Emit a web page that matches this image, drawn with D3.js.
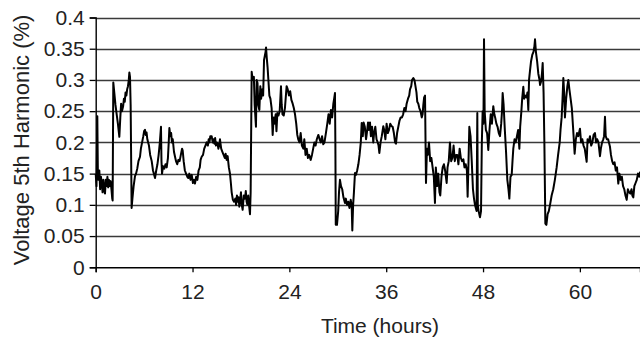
<!DOCTYPE html>
<html>
<head>
<meta charset="utf-8">
<script src="https://cdn.jsdelivr.net/npm/d3@7"></script>
<style>
html,body{margin:0;padding:0;background:#fff;}
svg{display:block;}
text{font-family:"Liberation Sans",Arial,Helvetica,sans-serif;fill:#222;}
</style>
</head>
<body>
<svg id="chart" width="640" height="338"></svg>
<script>
const xTicks = [0, 12, 24, 36, 48, 60];
const yTicks = [0, 0.05, 0.1, 0.15, 0.2, 0.25, 0.3, 0.35, 0.4];
const yTickLabels = ["0", "0.05", "0.1", "0.15", "0.2", "0.25", "0.3", "0.35", "0.4"];
const xTitle = "Time (hours)";
const yTitle = "Voltage 5th Harmonic (%)";

const hours = [
0.0,0.1,0.2,0.27,0.35,0.45,0.55,0.65,0.75,0.85,0.95,1.05,1.15,1.25,1.35,1.45,1.55,1.65,1.75,1.85,1.95,2.05,2.1,2.18,2.3,2.45,2.6,2.75,2.93,3.05,3.15,3.25,3.4,3.5,3.6,3.7,3.8,3.9,4.0,4.1,4.17,4.25,4.33,4.45,4.55,4.7,4.87,5.0,5.15,5.3,5.49,5.6,5.75,5.9,6.0,6.11,6.2,6.3,6.4,6.5,6.6,6.75,6.94,7.1,7.25,7.35,7.5,7.65,7.8,7.95,8.09,8.15,8.22,8.35,8.5,8.65,8.8,8.95,9.05,9.13,9.25,9.35,9.45,9.55,9.7,9.83,9.95,10.1,10.25,10.4,10.55,10.7,10.78,10.9,11.05,11.2,11.35,11.48,11.6,11.75,11.9,12.05,12.2,12.3,12.45,12.6,12.75,12.9,13.0,13.13,13.3,13.45,13.6,13.75,13.9,14.0,14.1,14.2,14.37,14.5,14.6,14.7,14.8,14.9,15.0,15.1,15.2,15.3,15.4,15.55,15.7,15.85,16.0,16.1,16.23,16.35,16.5,16.64,16.75,16.85,17.0,17.14,17.3,17.4,17.5,17.6,17.7,17.8,17.9,18.0,18.1,18.21,18.35,18.5,18.6,18.7,18.8,18.9,19.0,19.12,19.2,19.33,19.45,19.6,19.7,19.86,19.95,20.05,20.15,20.28,20.4,20.5,20.65,20.75,20.86,20.95,21.05,21.11,21.2,21.3,21.4,21.52,21.65,21.8,21.93,22.05,22.15,22.3,22.4,22.51,22.65,22.8,22.96,23.05,23.15,23.3,23.45,23.66,23.8,23.95,24.1,24.25,24.41,24.55,24.7,24.85,24.98,25.1,25.25,25.4,25.55,25.73,25.85,26.0,26.15,26.3,26.45,26.64,26.8,26.95,27.1,27.25,27.4,27.59,27.75,27.9,28.05,28.2,28.35,28.54,28.7,28.85,29.0,29.15,29.3,29.45,29.55,29.65,29.7,29.75,29.9,30.05,30.15,30.27,30.4,30.55,30.7,30.89,31.0,31.15,31.3,31.45,31.6,31.72,31.8,31.9,32.0,32.13,32.25,32.4,32.55,32.7,32.85,32.96,33.1,33.2,33.35,33.5,33.6,33.75,33.85,33.99,34.1,34.25,34.4,34.5,34.65,34.8,34.95,35.05,35.15,35.3,35.45,35.64,35.75,35.9,36.05,36.2,36.35,36.5,36.67,36.8,36.95,37.1,37.21,37.35,37.5,37.65,37.79,37.95,38.1,38.25,38.4,38.53,38.7,38.85,38.95,39.1,39.2,39.36,39.5,39.6,39.75,39.85,39.98,40.1,40.25,40.4,40.51,40.6,40.7,40.81,40.93,41.05,41.15,41.3,41.45,41.6,41.75,41.9,42.04,42.15,42.3,42.45,42.6,42.7,42.85,43.0,43.15,43.3,43.49,43.6,43.75,43.9,44.05,44.2,44.35,44.5,44.65,44.8,44.95,45.1,45.25,45.4,45.56,45.7,45.85,46.0,46.09,46.2,46.3,46.45,46.6,46.75,46.88,47.0,47.1,47.2,47.29,47.35,47.45,47.62,47.75,47.85,47.95,48.05,48.12,48.2,48.35,48.5,48.65,48.8,48.95,49.1,49.27,49.4,49.5,49.65,49.8,49.95,50.1,50.25,50.35,50.43,50.55,50.7,50.85,51.01,51.15,51.26,51.4,51.55,51.65,51.75,51.9,52.05,52.2,52.35,52.5,52.6,52.75,52.85,52.99,53.1,53.25,53.4,53.5,53.61,53.7,53.82,53.95,54.1,54.25,54.35,54.44,54.55,54.7,54.85,55.0,55.06,55.2,55.3,55.39,55.5,55.6,55.72,55.85,56.0,56.15,56.3,56.5,56.7,56.9,57.12,57.3,57.5,57.6,57.74,57.85,57.95,58.05,58.15,58.3,58.45,58.57,58.7,58.85,59.0,59.15,59.35,59.5,59.65,59.8,60.01,60.15,60.3,60.45,60.6,60.84,60.95,61.1,61.25,61.4,61.55,61.7,61.87,62.0,62.15,62.3,62.49,62.6,62.75,62.9,63.0,63.11,63.2,63.35,63.5,63.6,63.73,63.85,64.0,64.14,64.3,64.45,64.6,64.76,64.9,65.05,65.2,65.35,65.5,65.65,65.8,65.95,66.1,66.25,66.4,66.5,66.62,66.75,66.9,67.05,67.2,67.35,67.45
];

const voltage = [
0.15,0.13,0.242,0.15,0.14,0.155,0.125,0.145,0.135,0.12,0.14,0.125,0.118,0.14,0.13,0.145,0.128,0.14,0.13,0.138,0.125,0.11,0.107,0.296,0.28,0.26,0.245,0.23,0.209,0.24,0.262,0.25,0.258,0.27,0.265,0.28,0.275,0.285,0.29,0.3,0.312,0.305,0.26,0.095,0.11,0.13,0.146,0.15,0.158,0.17,0.177,0.19,0.2,0.21,0.218,0.22,0.212,0.216,0.205,0.2,0.195,0.18,0.17,0.155,0.148,0.143,0.155,0.165,0.18,0.2,0.225,0.17,0.15,0.162,0.158,0.165,0.16,0.175,0.2,0.223,0.21,0.215,0.2,0.205,0.185,0.177,0.17,0.165,0.172,0.17,0.18,0.19,0.187,0.17,0.155,0.15,0.145,0.143,0.15,0.14,0.148,0.135,0.14,0.134,0.145,0.14,0.155,0.16,0.172,0.177,0.18,0.19,0.195,0.2,0.195,0.205,0.2,0.21,0.21,0.2,0.205,0.198,0.207,0.195,0.2,0.198,0.19,0.195,0.205,0.19,0.185,0.18,0.175,0.182,0.172,0.178,0.16,0.15,0.135,0.12,0.108,0.105,0.11,0.1,0.115,0.105,0.112,0.097,0.108,0.12,0.1,0.092,0.115,0.11,0.122,0.105,0.1,0.115,0.1,0.085,0.12,0.313,0.3,0.305,0.26,0.225,0.3,0.295,0.26,0.252,0.29,0.27,0.285,0.275,0.332,0.338,0.345,0.352,0.335,0.32,0.3,0.275,0.27,0.255,0.212,0.24,0.23,0.245,0.218,0.247,0.243,0.25,0.29,0.26,0.245,0.243,0.255,0.29,0.285,0.275,0.282,0.268,0.262,0.255,0.245,0.23,0.212,0.205,0.2,0.215,0.195,0.19,0.205,0.18,0.19,0.175,0.18,0.172,0.18,0.19,0.2,0.195,0.205,0.212,0.205,0.2,0.21,0.197,0.2,0.216,0.23,0.245,0.23,0.252,0.24,0.262,0.27,0.279,0.2,0.068,0.068,0.09,0.12,0.14,0.13,0.125,0.112,0.103,0.11,0.1,0.105,0.095,0.108,0.1,0.059,0.1,0.12,0.151,0.148,0.155,0.165,0.18,0.2,0.231,0.21,0.232,0.225,0.205,0.215,0.232,0.22,0.232,0.21,0.225,0.2,0.215,0.225,0.205,0.2,0.195,0.183,0.2,0.21,0.226,0.22,0.205,0.23,0.215,0.22,0.23,0.226,0.225,0.215,0.2,0.198,0.215,0.225,0.235,0.24,0.24,0.245,0.255,0.25,0.262,0.27,0.275,0.285,0.29,0.3,0.303,0.3,0.292,0.28,0.265,0.262,0.255,0.25,0.24,0.245,0.26,0.272,0.275,0.135,0.19,0.18,0.2,0.17,0.175,0.16,0.145,0.103,0.16,0.13,0.15,0.12,0.115,0.145,0.16,0.165,0.155,0.135,0.16,0.17,0.2,0.17,0.175,0.195,0.17,0.18,0.18,0.165,0.19,0.175,0.17,0.173,0.16,0.165,0.155,0.113,0.17,0.225,0.21,0.17,0.125,0.11,0.1,0.095,0.09,0.247,0.1,0.09,0.08,0.09,0.2,0.25,0.23,0.365,0.25,0.22,0.215,0.188,0.22,0.245,0.23,0.258,0.245,0.24,0.23,0.225,0.215,0.21,0.23,0.25,0.279,0.26,0.22,0.185,0.14,0.125,0.11,0.145,0.148,0.17,0.19,0.205,0.2,0.21,0.22,0.19,0.225,0.25,0.27,0.289,0.27,0.275,0.272,0.28,0.252,0.3,0.315,0.33,0.34,0.345,0.352,0.365,0.345,0.33,0.31,0.3,0.292,0.298,0.31,0.327,0.28,0.2,0.07,0.068,0.085,0.09,0.1,0.115,0.125,0.14,0.16,0.18,0.2,0.22,0.24,0.27,0.303,0.28,0.24,0.27,0.29,0.3,0.285,0.27,0.255,0.225,0.182,0.205,0.215,0.21,0.222,0.2,0.205,0.195,0.19,0.169,0.205,0.2,0.21,0.195,0.2,0.212,0.215,0.2,0.205,0.2,0.178,0.19,0.2,0.205,0.21,0.241,0.21,0.205,0.205,0.2,0.193,0.18,0.17,0.165,0.168,0.155,0.16,0.134,0.15,0.14,0.145,0.13,0.125,0.115,0.108,0.125,0.12,0.118,0.125,0.115,0.112,0.13,0.135,0.14,0.15,0.145,0.153
];

const svg = d3.select("#chart");
const x = d3.scaleLinear().domain([0, 67.45]).range([95.7, 640]);
const y = d3.scaleLinear().domain([0, 0.4]).range([267.3, 17.5]);

const fontSize = 21;

// gridlines
svg.append("g")
  .selectAll("line")
  .data(yTicks.filter(d => d > 0))
  .join("line")
  .attr("x1", x(0)).attr("x2", 640)
  .attr("y1", d => Math.round(y(d)) + 0.5).attr("y2", d => Math.round(y(d)) + 0.5)
  .attr("stroke", "#3a3a3a").attr("stroke-width", 1.3);

// data line
const pts = hours.map((h, i) => [h, voltage[i]]);
svg.append("path")
  .datum(pts)
  .attr("fill", "none")
  .attr("stroke", "#000")
  .attr("stroke-width", 2)
  .attr("stroke-linejoin", "round")
  .attr("d", d3.line().x(d => x(d[0])).y(d => y(d[1])));

// y axis
const yAxis = d3.axisLeft(y).tickValues(yTicks).tickSize(6).tickPadding(5)
  .tickFormat((d, i) => yTickLabels[i]);
const gy = svg.append("g").attr("transform", `translate(${x(0)},0)`).call(yAxis);
gy.select(".domain").attr("stroke", "#000").attr("stroke-width", 1.4);
gy.selectAll(".tick line").attr("stroke", "#000").attr("stroke-width", 1.3);
gy.selectAll(".tick text").attr("font-size", fontSize).attr("font-family", "Liberation Sans, Arial, sans-serif").attr("fill", "#222");

// x axis
const xAxis = d3.axisBottom(x).tickValues(xTicks).tickSize(5).tickPadding(12)
  .tickFormat(d3.format("d"));
const gx = svg.append("g").attr("transform", `translate(0,${y(0)})`).call(xAxis);
gx.select(".domain").attr("stroke", "#000").attr("stroke-width", 1.4);
gx.selectAll(".tick line").attr("stroke", "#000").attr("stroke-width", 1.3);
gx.selectAll(".tick text").attr("font-size", fontSize).attr("font-family", "Liberation Sans, Arial, sans-serif").attr("fill", "#222");

// titles
svg.append("text")
  .attr("x", 380).attr("y", 333)
  .attr("text-anchor", "middle")
  .attr("font-size", fontSize)
  .text(xTitle);

svg.append("text")
  .attr("transform", "translate(29,140) rotate(-90)")
  .attr("text-anchor", "middle")
  .attr("font-size", 22)
  .text(yTitle);
</script>
</body>
</html>
